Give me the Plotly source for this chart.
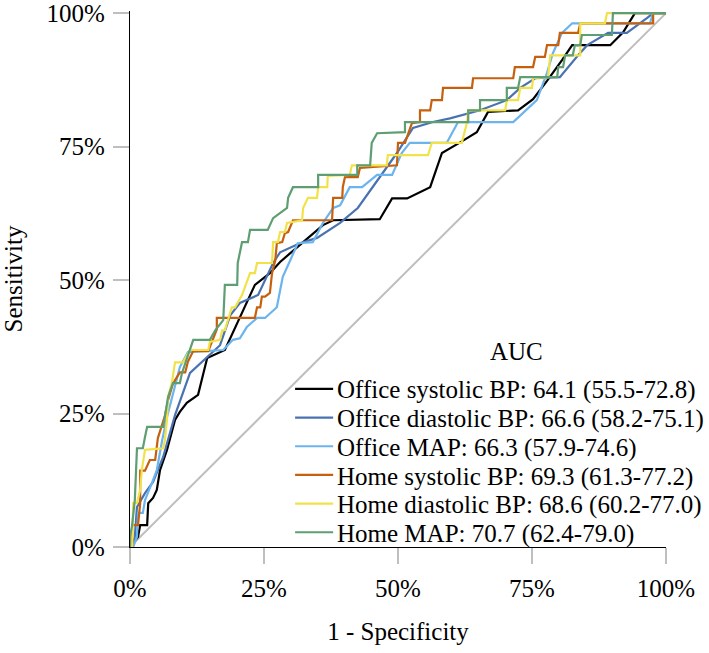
import plotly.graph_objects as go

# ROC curves: 1 - specificity (%) and sensitivity (%)
names = [
    "Office systolic BP: 64.1 (55.5-72.8)",
    "Office diastolic BP: 66.6 (58.2-75.1)",
    "Office MAP: 66.3 (57.9-74.6)",
    "Home systolic BP: 69.3 (61.3-77.2)",
    "Home diastolic BP: 68.6 (60.2-77.0)",
    "Home MAP: 70.7 (62.4-79.0)",
]
colors = ["#000000", "#4A72B0", "#6CB4EE", "#C5600F", "#F2E24A", "#5E9E72"]

office_sys_fpr = [0, 1.5, 1.9, 3.2, 3.4, 4.3, 5.0, 5.6, 6.9, 8.4, 9.3, 10.6, 12.7, 14.4, 17.7, 23.3, 26.1, 28.0, 32.3, 36.0, 37.9, 46.6, 48.9, 51.7, 56.0, 58.2, 61.6, 64.7, 66.8, 72.4, 75.2, 77.8, 80.6, 82.5, 89.6, 92.0, 94.2, 100]
office_sys_tpr = [0, 1.9, 4.1, 4.1, 8.2, 9.2, 10.7, 14.4, 18.2, 23.8, 25.3, 27.0, 28.5, 35.4, 36.9, 49.1, 51.3, 53.4, 57.1, 60.3, 61.2, 61.4, 65.3, 65.3, 67.4, 73.8, 75.8, 77.7, 81.5, 81.8, 83.9, 87.3, 91.2, 94.0, 94.0, 96.4, 100, 100]

office_dia_fpr = [0, 0.4, 0.9, 1.3, 2.8, 4.3, 6.2, 8.4, 11.2, 14.4, 16.8, 18.7, 20.5, 23.9, 26.7, 28.0, 31.7, 34.9, 39.2, 42.5, 46.1, 49.8, 52.8, 56.5, 59.7, 65.3, 70.3, 72.8, 75.6, 80.2, 83.6, 85.3, 89.2, 92.7, 96.5, 97.6, 100]
office_dia_tpr = [0, 0, 1.9, 7.5, 10.1, 12.2, 16.9, 24.7, 32.6, 35.6, 37.8, 43.4, 45.7, 47.2, 53.2, 55.2, 56.9, 57.9, 60.7, 63.5, 68.7, 73.8, 78.5, 79.6, 80.3, 81.8, 83.7, 86.0, 87.8, 88.0, 92.1, 94.0, 96.3, 96.3, 99.1, 100, 100]

office_map_fpr = [0, 0.6, 1.3, 1.5, 2.4, 2.8, 4.1, 5.0, 6.0, 6.9, 9.3, 10.8, 17.4, 19.2, 20.5, 21.8, 23.7, 25.2, 27.4, 28.5, 29.9, 31.3, 34.1, 36.0, 37.9, 39.2, 41.0, 43.3, 46.1, 48.9, 50.7, 52.2, 59.1, 61.2, 71.5, 75.9, 77.8, 78.9, 80.6, 82.5, 97.0, 97.6, 100]
office_map_tpr = [0, 0, 1.9, 6.4, 6.4, 8.8, 12.0, 14.4, 20.0, 24.3, 33.7, 36.5, 36.9, 38.8, 39.1, 41.2, 42.9, 42.9, 44.9, 50.6, 53.7, 56.9, 57.1, 60.7, 63.5, 64.0, 67.4, 67.4, 69.7, 69.7, 73.8, 75.7, 75.7, 79.6, 79.6, 83.7, 88.8, 92.5, 96.3, 98.1, 98.1, 100, 100]

home_sys_fpr = [0, 0.4, 0.4, 1.5, 1.9, 1.9, 2.8, 3.7, 4.7, 5.2, 6.5, 7.1, 8.0, 9.3, 10.3, 10.8, 11.8, 14.6, 16.2, 16.2, 23.3, 23.7, 24.3, 24.6, 25.2, 25.6, 26.1, 26.5, 27.1, 27.4, 28.4, 28.9, 29.5, 30.4, 37.7, 37.9, 39.6, 39.7, 40.1, 42.5, 42.9, 49.8, 50.0, 51.3, 52.6, 54.1, 54.1, 56.0, 56.3, 58.2, 58.4, 63.8, 64.0, 71.5, 71.8, 75.2, 75.6, 77.4, 77.8, 79.9, 80.2, 83.6, 84.0, 97.6, 97.6, 100]
home_sys_tpr = [0, 0, 4.1, 4.1, 8.2, 14.3, 14.3, 16.3, 16.3, 20.4, 24.5, 27.5, 30.6, 32.7, 32.7, 34.7, 36.7, 36.7, 40.8, 42.9, 42.9, 44.9, 44.9, 46.9, 46.9, 47.2, 47.6, 51.3, 53.7, 56.9, 57.1, 58.8, 59.0, 61.2, 61.2, 65.4, 65.4, 67.4, 69.3, 69.3, 71.0, 71.5, 75.7, 75.7, 79.4, 79.6, 81.8, 81.8, 83.7, 83.7, 86.0, 86.0, 87.8, 87.8, 89.9, 89.9, 91.8, 91.8, 94.0, 94.0, 96.3, 96.3, 98.1, 98.1, 100, 100]

home_dia_fpr = [0, 0.4, 0.6, 1.3, 1.9, 2.2, 2.8, 6.2, 6.5, 6.9, 7.1, 7.8, 8.4, 9.9, 11.2, 14.6, 14.9, 16.8, 17.2, 17.7, 19.0, 19.6, 20.9, 22.4, 23.3, 23.7, 26.5, 26.7, 27.6, 28.0, 28.9, 29.3, 32.1, 32.3, 33.2, 34.9, 35.1, 36.8, 36.9, 41.0, 41.4, 47.9, 48.1, 55.6, 56.3, 61.9, 62.9, 63.1, 70.0, 70.3, 72.4, 72.8, 75.0, 75.2, 78.0, 78.4, 84.0, 84.0, 88.6, 89.0, 100]
home_dia_tpr = [0, 0, 8.2, 8.2, 10.7, 14.4, 18.2, 18.5, 20.0, 23.8, 28.1, 30.7, 34.6, 34.6, 36.9, 36.9, 38.4, 38.8, 40.6, 40.6, 44.9, 44.9, 47.2, 51.3, 51.3, 53.2, 53.2, 57.1, 57.1, 59.0, 59.0, 60.7, 61.2, 63.5, 65.4, 65.4, 67.4, 67.4, 69.5, 69.7, 71.5, 71.5, 73.4, 73.4, 75.7, 75.7, 79.6, 81.8, 81.8, 83.7, 83.7, 86.0, 86.0, 87.8, 88.0, 92.1, 92.1, 98.1, 98.1, 100, 100]

home_map_fpr = [0, 0, 0.4, 0.9, 1.3, 2.4, 2.8, 3.2, 6.2, 6.5, 7.1, 8.0, 9.3, 9.7, 11.2, 11.8, 14.9, 15.9, 17.4, 17.7, 20.0, 20.1, 20.9, 22.0, 22.4, 25.7, 26.7, 29.3, 29.5, 30.4, 35.1, 35.1, 42.4, 42.4, 44.8, 45.1, 46.1, 51.3, 51.3, 63.1, 63.1, 65.3, 65.3, 70.3, 70.3, 72.4, 72.8, 79.7, 79.9, 80.8, 81.2, 82.6, 83.0, 84.0, 84.3, 89.9, 90.1, 100]
home_map_tpr = [0, 1.9, 4.1, 8.8, 18.5, 18.5, 20.6, 22.5, 22.5, 24.3, 28.1, 30.7, 30.7, 32.6, 36.9, 38.8, 38.8, 40.6, 42.5, 49.1, 49.1, 53.2, 57.1, 57.1, 59.4, 59.4, 61.6, 63.5, 65.4, 67.4, 67.4, 69.7, 69.7, 71.5, 71.5, 75.7, 77.5, 77.7, 79.6, 79.6, 81.8, 81.8, 83.7, 83.7, 86.0, 86.0, 88.0, 88.0, 89.9, 89.9, 92.1, 92.1, 94.0, 94.0, 95.9, 95.9, 100, 100]

ref_fpr = [0, 100]
ref_tpr = [0, 100]

x_tickvals = [0, 25, 50, 75, 100]
x_ticktext = ["0%", "25%", "50%", "75%", "100%"]
y_tickvals = [0, 25, 50, 75, 100]
y_ticktext = ["0%", "25%", "50%", "75%", "100%"]

series = [
    (office_sys_fpr, office_sys_tpr),
    (office_dia_fpr, office_dia_tpr),
    (office_map_fpr, office_map_tpr),
    (home_sys_fpr, home_sys_tpr),
    (home_dia_fpr, home_dia_tpr),
    (home_map_fpr, home_map_tpr),
]

FONT = "Liberation Serif, Times New Roman, serif"

fig = go.Figure()
fig.add_trace(go.Scatter(x=ref_fpr, y=ref_tpr, mode="lines",
                         line=dict(color="#BFBFBF", width=2),
                         showlegend=False, hoverinfo="skip"))
for (fx, fy), nm, c in zip(series, names, colors):
    fig.add_trace(go.Scatter(x=fx, y=fy, mode="lines", name=nm,
                             line=dict(color=c, width=2.2), showlegend=False))

axis_common = dict(
    showline=True, linecolor="black", linewidth=1.3,
    ticks="outside", ticklen=16, tickcolor="#BFBFBF", tickwidth=1.5,
    showgrid=False, zeroline=False, ticklabeloverflow="allow",
    automargin=False,
    tickfont=dict(family=FONT, size=25, color="black"),
)

# manual legend (compact row spacing as in the reference)
leg_line_x0, leg_line_x1, leg_text_x = 0.308, 0.379, 0.382
leg_row0_y, leg_row_step = 0.295, 0.0535
shapes = []
annotations = [dict(text="AUC", x=0.722, y=0.364, xref="paper", yref="paper",
                    xanchor="center", yanchor="middle", showarrow=False,
                    font=dict(family=FONT, size=25, color="black"))]
for i, (nm, c) in enumerate(zip(names, colors)):
    yy = leg_row0_y - i * leg_row_step
    shapes.append(dict(type="line", xref="paper", yref="paper",
                       x0=leg_line_x0, x1=leg_line_x1, y0=yy, y1=yy,
                       line=dict(color=c, width=2.2)))
    annotations.append(dict(text=nm, x=leg_text_x, y=yy - 0.003,
                            xref="paper", yref="paper",
                            xanchor="left", yanchor="middle", showarrow=False,
                            font=dict(family=FONT, size=25, color="black")))

fig.update_layout(
    width=709, height=653, autosize=False,
    paper_bgcolor="white", plot_bgcolor="white",
    margin=dict(l=130, r=43, t=11, b=106),
    font=dict(family=FONT, size=25, color="black"),
    xaxis=dict(range=[0, 100], tickvals=x_tickvals, ticktext=x_ticktext,
               ticklabelstandoff=3,
               title=dict(text="1 - Specificity", standoff=21,
                          font=dict(family=FONT, size=25)),
               **axis_common),
    yaxis=dict(range=[0, 100.4], tickvals=y_tickvals, ticktext=y_ticktext,
               ticklabelstandoff=3,
               title=dict(text="Sensitivity", standoff=40,
                          font=dict(family=FONT, size=25)),
               **axis_common),
    shapes=shapes,
    annotations=annotations,
    showlegend=False,
)

fig.write_html(
    "out.html",
    config={"displayModeBar": False},
    post_script="document.body.style.margin='0';document.body.style.overflow='hidden';",
)
